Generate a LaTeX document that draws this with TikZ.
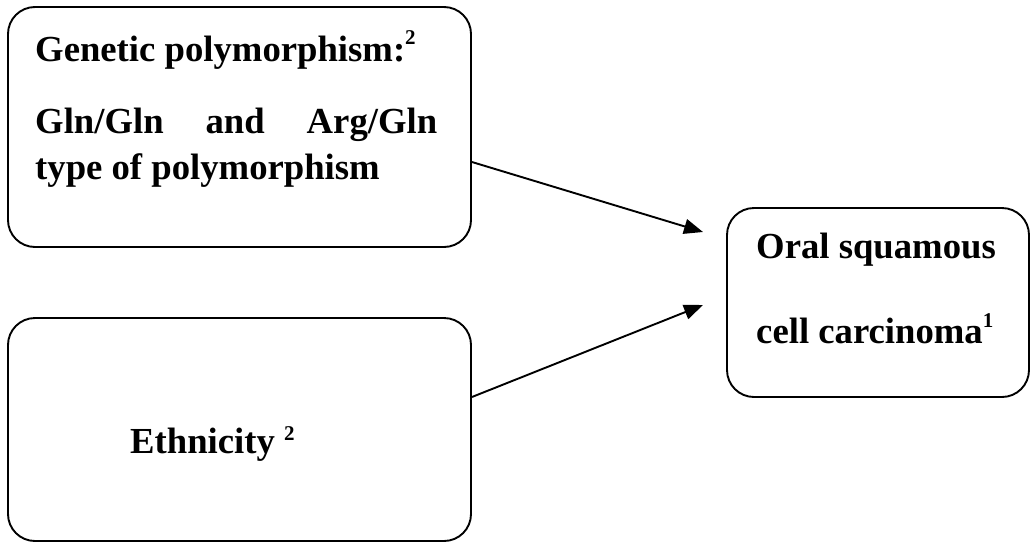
\documentclass[tikz,border=0pt]{standalone}
\usepackage{fontspec}
\setmainfont{Liberation Serif}
\usetikzlibrary{arrows.meta}
\newcommand\mysup[2]{\raisebox{#1}{\fontsize{21}{21}\selectfont #2}}
\tikzset{
  box/.style={draw, line width=1.9pt, rounded corners=27pt, rectangle, inner sep=0pt},
  txt/.style={anchor=base west, inner sep=0pt, font=\fontsize{36.7}{45}\selectfont\bfseries},
  conn/.style={line width=1.9pt, -{Triangle[length=19pt,width=15pt]}}
}
\begin{document}
\begin{tikzpicture}[x=1pt,y=-1pt]
\useasboundingbox (0,0) rectangle (1032,544);
\node[box, minimum width=463pt, minimum height=240pt] (b1) at (239.5,127) {};
\node[box, minimum width=463pt, minimum height=223pt] (b2) at (239.5,429.5) {};
\node[box, minimum width=302pt, minimum height=189pt] (b3) at (878,302.5) {};
\node[txt] (l1) at (35,61) {Genetic polymorphism:\mysup{17pt}{2}};
\node[txt] (l2) at (35,133) {\hbox to 402pt{Gln/Gln\hfil and\hfil Arg/Gln}};
\node[txt] (l3) at (35,179) {type of polymorphism};
\node[txt] (l4) at (130,453) {Ethnicity \mysup{13pt}{2}};
\node[txt] (l5) at (756,258) {Oral squamous};
\node[txt] (l6) at (756,343) {cell carcinoma\mysup{16pt}{1}};
\coordinate (t1) at (703,232);
\coordinate (t2) at (703,305);
\draw[conn] ([yshift=-35pt]b1.east) -- (t1);
\draw[conn] ([yshift=32.5pt]b2.east) -- (t2);
\end{tikzpicture}
\end{document}
